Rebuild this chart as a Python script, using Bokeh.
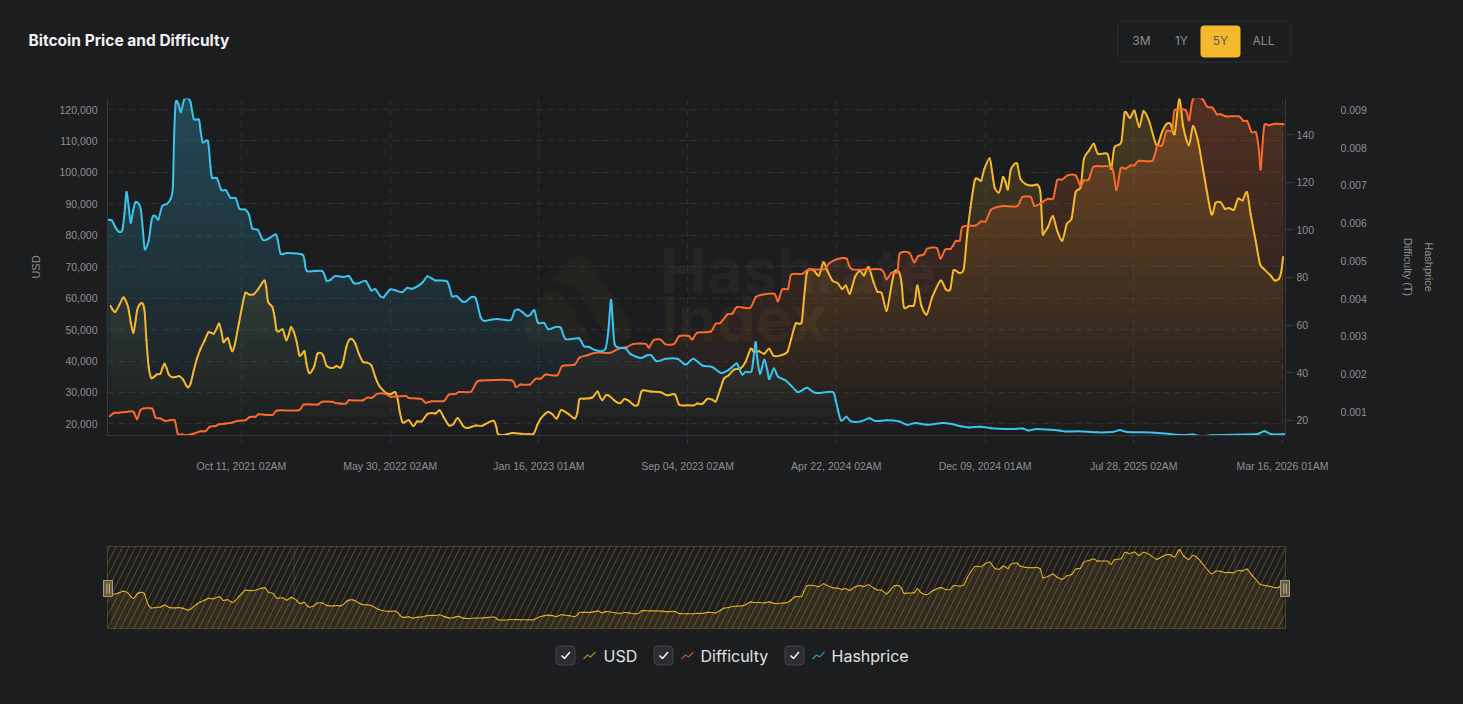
import numpy as np
import pandas as pd
from bokeh.plotting import figure
from bokeh.embed import file_html
from bokeh.resources import INLINE
from bokeh.models import (Range1d, LinearAxis, FixedTicker, NumeralTickFormatter, Label,
                          BoxAnnotation, PolyAnnotation)

TITLE = "Bitcoin Price and Difficulty"
START = pd.Timestamp("2021-03-17")
DAY_MS = 86400000.0

usd_days = [5,8,12,18,23,26,32,36,40,43,46,50,54,57.5,60.5,64,68,73,77,82,85,88.5,92,95,100,106,111,117.5,122,125,129,134,139,144.5,151,157,165,170,173.5,177,180,183,187,191,194,198,204,209,214,219.5,227,233.5,240,244,246.5,249.5,256,259.5,262.5,266,272,275,278,282,285,289.5,294,298,302.5,306,309,313,318,321.5,326,331,335,340,346.5,351.5,356,362,366,371,375,380,385,390.5,397,403,410,416,421.5,427,434.5,441,447,451,454,458,461.5,468,475,481,488,496.5,504,509.5,516,522,530,537,544,552.5,559,572,582,592,600,604,606.5,616,629,642,654.6,662,667.5,673,679,684.6,691,697.6,704,709,717,726,730,733,740,753,761,765,768.5,774,779,787,793,797,803,810,818,824,829,833,843.6,859,869.5,881.4,888,900.6,911,916,924,932,939.4,945,952,957.5,965,973,983,991,999,1004,1012,1020,1027.5,1035,1045.6,1056,1062,1069,1078,1082,1086,1089.6,1097,1105,1112,1118,1126,1134,1141,1147,1153,1161,1169,1175,1182,1190,1196,1202.5,1210,1215.5,1222,1229.4,1233.5,1237,1245,1252,1254.3,1258,1264,1272.4,1281,1294,1302,1309,1314,1323,1330,1335.4,1340.5,1347,1351,1357,1362,1370,1373.7,1378,1384.6,1388,1391,1395,1398.5,1402.7,1408,1413,1418,1426,1436,1444,1449,1452.4,1454.5,1460.7,1468.4,1475,1483,1490,1497.5,1503.7,1511.4,1516.6,1524.4,1532,1538.4,1553,1559,1564,1574.6,1580,1588,1595,1602.6,1609,1617.6,1629.5,1638,1645,1651,1657.5,1664.7,1671,1679.7,1686,1693.7,1702,1714.4,1721,1729,1735.7,1742,1749.6,1756,1763,1770,1775.5,1783.3,1790,1796,1806.6,1813,1819.6,1823,1826]
usd_values = [57500,56300,55600,57700,59800,60100,57200,52400,49000,51900,56100,58000,58400,56100,46600,38100,34600,35100,35800,35900,37600,39100,37600,35800,34900,34900,35200,34100,32300,31600,32800,37000,40800,43900,46600,49200,48700,50600,51900,49200,46000,46600,47300,44500,43100,45500,51900,57200,61600,61200,61200,62700,64800,65600,63500,58800,57200,54000,49800,49400,50100,48200,46600,48700,50800,49200,46000,41800,42300,43100,39200,36200,37000,38600,42300,42600,41800,38600,37800,37900,38400,37900,39700,44500,46600,47000,45500,42300,39700,39500,38600,34900,32300,30900,29600,29600,30100,27500,23800,20600,20500,21200,19300,20800,20800,23100,23500,23300,24300,22200,19600,19900,21900,19300,18700,19500,19400,20500,21000,19000,16700,16500,17100,16900,16700,16900,19600,21700,23100,23800,23100,21700,24300,24100,23000,21700,23800,27800,28000,28400,30300,28600,27500,29100,29000,27500,26700,26700,27900,27300,25900,26200,30200,30700,30300,30100,29100,29400,26100,25900,25900,26500,26400,28000,27700,27200,31200,34400,35500,37300,37600,39700,43900,42900,43100,42300,43900,41600,41800,42900,47100,51900,52200,60300,67800,69100,68800,67200,71400,68800,65600,64800,62900,64000,61400,66700,68600,67200,69900,65000,62000,61600,55900,61400,68300,68300,64500,57100,57500,57600,59200,64000,57700,54800,60300,65600,62800,62800,68800,68000,69300,80500,88900,97400,98000,97400,101100,104500,100600,95100,93600,95800,98500,96900,94600,100600,102500,102700,97900,96300,95800,96100,93700,81000,80700,82600,86100,81500,78300,83600,85400,93700,95300,104300,106900,109100,105900,105900,101100,108000,109600,119100,117300,119600,114400,119400,116500,108600,112900,115400,115400,112200,123300,114400,108600,114700,110100,100600,86800,90300,90500,88400,88700,88100,91600,91100,93700,86800,78300,70900,69300,67200,65600,66200,68300,73100]

difficulty_days = [3.6,10,17.6,28,40,46,51,56.4,69.4,74.6,82,90,104,109,116,124,134,144.5,152,159,168,173,183,196,201,214,221,230,235,256,263.6,297,305,326,333.5,349,354,370,375,395.6,403,411,419,432,440,463,468,487,494,504,522.5,530,540.6,546,564,572,579.5,627,634,641.6,656,665,673,680.5,698.6,706.4,725.5,733,745,758,779,789,797,807,817,836,841,848,859,867,880,888,903,908.4,916,937,944.6,952,963,970.5,978,998,1007,1020,1036,1041.4,1048,1057,1062,1079,1089.6,1113,1121,1134,1148,1157,1201,1210,1217.5,1227,1230.4,1245,1253,1259,1268,1273.5,1288,1294,1301,1310,1317.5,1324,1328,1348,1357,1364,1371.6,1379.4,1392,1413,1421,1434,1440,1452,1460.7,1469,1475,1483,1491,1503.7,1511.4,1516.6,1524,1531,1542.5,1560.6,1567,1573.6,1581,1589,1595,1602,1623,1630.5,1638,1645,1654,1657.5,1674.6,1680,1686,1700.4,1708,1716,1723,1729,1737,1757.4,1764,1770.4,1777,1784,1788.5,1791,1793.7,1797,1804,1814,1827]
difficulty_values = [21.7,23.1,23.2,23.5,23.6,20.4,24.2,25.0,24.9,21.1,20.8,19.7,20.0,14.4,14.0,13.7,14.4,15.4,15.4,17.3,17.6,18.3,18.6,19.2,19.7,20.0,21.4,21.5,22.5,22.2,24.1,24.2,26.6,26.6,27.8,27.8,27.3,27.0,28.4,28.3,29.5,29.5,31.1,31.1,29.9,30.2,29.4,29.0,27.4,28.0,28.1,30.8,31.1,31.9,31.9,35.4,36.7,36.8,34.0,35.0,35.0,37.4,37.5,39.2,38.9,42.8,43.4,46.3,47.3,48.4,48.3,49.4,50.4,50.8,52.1,52.1,50.5,53.6,53.9,51.9,52.1,55.3,55.4,53.9,56.8,57.3,60.6,60.9,64.5,64.8,67.6,67.2,71.8,72.9,73.1,70.0,75.0,75.3,81.2,81.5,83.4,83.4,86.0,87.8,87.9,83.4,83.4,79.2,82.0,82.3,90.0,90.4,86.4,88.9,89.7,92.1,92.4,87.9,91.7,92.1,95.3,95.6,101.2,101.8,103.6,103.6,108.2,109.4,110.0,110.0,113.8,113.8,110.0,111.7,113.1,113.3,120.8,121.1,122.9,122.9,118.5,120.8,121.1,126.4,126.7,126.0,116.6,125.7,125.7,127.1,127.1,129.0,129.1,135.3,135.5,141.6,141.8,150.3,150.3,146.0,155.0,155.0,151.7,151.4,148.6,148.6,147.7,147.7,145.8,145.6,141.1,140.9,133.4,125.3,134.8,144.0,144.0,144.6,144.4]

hashprice_days = [0,7,12.5,18,23,26.4,29.5,33,36,40,43.5,49,52,55,58,64,68,71,74.6,79,85,92.7,98,101.5,103.6,106,110,114,118.6,124,129,134,142,144.5,148,156,160,162.6,170,176.6,184,191,199,205,214,219.6,225,233.6,241,248,261,264.6,269,279,302.4,306,310,333.5,340,346.5,354,367,375,382.7,390.5,401,409.6,416,424,429,438.6,447,458,465.6,473,483.6,490,496.6,504,509.6,527.7,535,542,551,556,565,572,579.5,584.7,595,605.4,626,632,638,644,652,657,663,668.6,678,684.6,696,704,711.6,732,740,748,755.6,767,773.7,778,782,785,787.7,794.4,805,812.5,828,838.5,844.6,853,867,885,896.4,900.6,910,924,939.4,953.4,965.3,977,981,986,991,1000,1003,1006.7,1009,1013.5,1020,1025,1028,1035,1041.5,1053,1061,1071.5,1076.6,1087,1100,1126,1131,1139,1147.6,1155,1170,1183,1193,1211,1229.4,1242,1255,1273.5,1297,1312,1325,1338,1356,1372,1403,1421,1431,1444,1478,1488,1509,1537,1561,1572.5,1584,1628,1667,1685,1700,1716,1781,1788.5,1797,1808,1830]
hashprice_values = [.00609,.00607,.00588,.00577,.00581,.00625,.00682,.00642,.00601,.00634,.00656,.00650,.00634,.00581,.00531,.00554,.00603,.00619,.00618,.00610,.00645,.00651,.00664,.00695,.00836,.00920,.00916,.00894,.00925,.00932,.00920,.00876,.00874,.00845,.00814,.00817,.00748,.00720,.00719,.00688,.00687,.00667,.00666,.00638,.00636,.00623,.00586,.00582,.00556,.00557,.00570,.00554,.00519,.00521,.00517,.00501,.00473,.00473,.00448,.00450,.00460,.00457,.00460,.00441,.00441,.00447,.00422,.00425,.00406,.00404,.00424,.00422,.00417,.00429,.00426,.00435,.00444,.00459,.00453,.00448,.00445,.00407,.00407,.00393,.00392,.00404,.00401,.00351,.00341,.00344,.00346,.00343,.00367,.00371,.00365,.00354,.00358,.00369,.00336,.00336,.00319,.00325,.00323,.00293,.00295,.00274,.00272,.00265,.00261,.00268,.00316,.00397,.00334,.00279,.00270,.00268,.00253,.00243,.00250,.00250,.00234,.00241,.00241,.00226,.00228,.00241,.00223,.00219,.00203,.00212,.00228,.00215,.00199,.00206,.00207,.00237,.00285,.00246,.00201,.00238,.00210,.00187,.00215,.00193,.00184,.00171,.00153,.00155,.00164,.00150,.00153,.00131,.00078,.00087,.00075,.00075,.00083,.00076,.00078,.00075,.00066,.00071,.00066,.00071,.00068,.00062,.00059,.00061,.00057,.00055,.00056,.00051,.00055,.00051,.00048,.00049,.00046,.00047,.00052,.00047,.00045,.00039,.00040,.00036,.00038,.00041,.00043,.00049,.00041,.00041]

x_tick_labels = ["Oct 11, 2021 02AM","May 30, 2022 02AM","Jan 16, 2023 01AM","Sep 04, 2023 02AM",
                 "Apr 22, 2024 02AM","Dec 09, 2024 01AM","Jul 28, 2025 02AM","Mar 16, 2026 01AM"]
usd_ticks = [20000,30000,40000,50000,60000,70000,80000,90000,100000,110000,120000]
difficulty_ticks = [20,40,60,80,100,120,140]
hashprice_ticks = [.001,.002,.003,.004,.005,.006,.007,.008,.009]
range_buttons = ["3M","1Y","5Y","ALL"]
legend_names = ["USD","Difficulty","Hashprice"]
overview_marks = ["2022-01-01","2026-01-01"]

BG="#1c1d1f"; YEL="#F4B92D"; ORG="#F96A2C"; BLU="#3CC3EE"
GRID="#2c2e32"; AXIS="#36383d"; TXT="#8e8e90"
TICK_FONT="Liberation Sans"; UI_FONT="Inter"

def to_ms(days):
    return (START.value/1e6) + np.asarray(days, dtype=float)*DAY_MS

x_ticks = [pd.to_datetime(s, format="%b %d, %Y %I%p").value/1e6 for s in x_tick_labels]
X0, X1 = float(to_ms(0)), float(to_ms(1829.7))

W=1447

def canvas_label(fig,x,y,text,**kw):
    kw.setdefault("text_baseline","middle"); kw.setdefault("text_font",UI_FONT)
    fig.add_layout(Label(x=x,y=y,x_units="canvas",y_units="canvas",text=text,**kw))

def canvas_box(fig,l,r,t,b,**kw):
    kw.setdefault("line_alpha",1)
    fig.add_layout(BoxAnnotation(left=l,right=r,top=t,bottom=b,left_units="canvas",right_units="canvas",
                                 top_units="canvas",bottom_units="canvas",editable=False,**kw))

def canvas_poly(fig,xs,ys,**kw):
    kw.setdefault("line_alpha",1)
    fig.add_layout(PolyAnnotation(xs=xs,ys=ys,xs_units="canvas",ys_units="canvas",editable=False,**kw))

# header strip
hd=figure(width=W,height=90,output_backend="svg",toolbar_location=None,
          x_range=Range1d(0,W),y_range=Range1d(90,0),
          background_fill_color=BG,border_fill_color=BG,outline_line_color=None,
          x_axis_location=None,y_axis_location=None,min_border=0,frame_width=W,frame_height=90)
hd.grid.visible=False
canvas_label(hd,20,32,TITLE,text_color="#f1f1f3",text_font_size="15.5px",text_font_style="bold")
canvas_box(hd,1109,1282.5,12.5,53.5,fill_color=BG,fill_alpha=1,line_color="#2c2e32",line_width=1,border_radius=7)
canvas_box(hd,1192,1232,17,49,fill_color=YEL,fill_alpha=1,line_alpha=0,border_radius=4)
for t,cx,col in zip(range_buttons,[1133,1173,1212,1255],[TXT,TXT,"#5c5a50",TXT]):
    canvas_label(hd,cx,32,t,text_color=col,text_font_size="12px",text_align="center")

# main chart
p = figure(width=W, height=422, output_backend="svg", toolbar_location=None,
           x_range=Range1d(X0,X1), y_range=Range1d(16313,123500),
           background_fill_color=BG, border_fill_color=BG, outline_line_color=None,
           min_border_left=99, min_border_right=170, min_border_top=0, min_border_bottom=85,
           frame_width=1178, frame_height=337)
p.extra_y_ranges = {"diff":Range1d(13.6,155.2), "hash":Range1d(0.000376,0.0093)}

def style_axis(a):
    a.axis_line_color=AXIS; a.major_tick_line_color=AXIS; a.minor_tick_line_color=None
    a.major_label_text_color=TXT; a.major_label_text_font=TICK_FONT
    a.major_label_text_font_size="10.5px"

ax=p.xaxis[0]; style_axis(ax)
ax.ticker=FixedTicker(ticks=x_ticks)
ax.major_label_overrides=dict(zip(x_ticks,x_tick_labels))
ax.major_tick_in=0; ax.major_tick_out=8; ax.major_tick_line_dash=[3,3]; ax.major_label_standoff=16
ay=p.yaxis[0]; style_axis(ay)
ay.ticker=FixedTicker(ticks=usd_ticks); ay.formatter=NumeralTickFormatter(format="0,0")
ay.major_tick_in=0; ay.major_tick_out=0; ay.major_label_standoff=10
ay.axis_label="USD"; ay.axis_label_text_color=TXT; ay.axis_label_text_font=TICK_FONT
ay.axis_label_text_font_size="11px"; ay.axis_label_text_font_style="normal"; ay.axis_label_standoff=15

ad=LinearAxis(y_range_name="diff", ticker=FixedTicker(ticks=difficulty_ticks)); style_axis(ad)
ad.major_tick_in=0; ad.major_tick_out=8; ad.major_label_standoff=3
p.add_layout(ad,"right")
ah=LinearAxis(y_range_name="hash", ticker=FixedTicker(ticks=hashprice_ticks),
              formatter=NumeralTickFormatter(format="0.000")); style_axis(ah)
ah.axis_line_color=None; ah.major_tick_line_color=None
ah.major_tick_in=0; ah.major_tick_out=0; ah.major_label_standoff=23
p.add_layout(ah,"right")
for name,standoff in (("Difficulty (T)",32),("Hashprice",6)):
    n=LinearAxis(y_range_name="hash",ticker=FixedTicker(ticks=[]),axis_label=name)
    n.axis_line_color=None; n.major_tick_line_color=None; n.minor_tick_line_color=None
    n.axis_label_text_color=TXT; n.axis_label_text_font=TICK_FONT; n.axis_label_text_font_size="11px"
    n.axis_label_text_font_style="normal"; n.axis_label_standoff=standoff
    p.add_layout(n,"right")

p.xgrid.ticker=FixedTicker(ticks=x_ticks); p.ygrid.ticker=FixedTicker(ticks=usd_ticks)
for g in (p.xgrid[0],p.ygrid[0]):
    g.grid_line_color=GRID; g.grid_line_dash=[6,5]; g.grid_line_width=1

# watermark (main figure canvas starts at page y=98)
OFF=90
canvas_poly(p,[544,562,577,624,622,607,587,567],[y-OFF for y in [272,248,248,317,330,334,312,279]],fill_color=YEL,fill_alpha=0.035,line_alpha=0,level="underlay")
canvas_poly(p,[514,537,552,584,577,522],[y-OFF for y in [319,283,283,332,334,334]],fill_color=YEL,fill_alpha=0.035,line_alpha=0,level="underlay")
canvas_label(p,652,262-OFF,"Hashrate",text_color="#ffffff",text_alpha=0.035,text_font_size="62px",text_font_style="bold",level="underlay")
canvas_label(p,652,310-OFF,"Index",text_color=YEL,text_alpha=0.055,text_font_size="62px",text_font_style="bold",level="underlay")

def gradient(fig,x,v,color,lo,alpha_top,range_name="default",n=36):
    v=np.asarray(v,float)
    levels=np.linspace(lo,v.max(),n+1)
    for i in range(n):
        a=levels[i]; b=levels[i+1]
        fig.varea(x=x,y1=np.minimum(v,a),y2=np.minimum(v,b),fill_color=color,
                  fill_alpha=alpha_top*(i+0.5)/n,y_range_name=range_name)

def smooth(fig,x,v,color,width,range_name="default",t=0.13,alpha=1.0):
    x=np.asarray(x,float); v=np.asarray(v,float)
    gx=np.gradient(x,edge_order=1)*2; gv=np.gradient(v,edge_order=1)*2
    fig.bezier(x0=x[:-1],y0=v[:-1],x1=x[1:],y1=v[1:],
               cx0=x[:-1]+t*gx[:-1],cy0=v[:-1]+t*gv[:-1],
               cx1=x[1:]-t*gx[1:],cy1=v[1:]-t*gv[1:],
               line_color=color,line_width=width,line_cap="round",line_alpha=alpha,y_range_name=range_name)

series=[(usd_days,usd_values,YEL,16313,0.20,"default"),
        (difficulty_days,difficulty_values,ORG,13.6,0.24,"diff"),
        (hashprice_days,hashprice_values,BLU,0.000376,0.27,"hash")]
for d,v,c,lo,a,rn in series:
    gradient(p,to_ms(d),v,c,lo,a,rn)
for d,v,c,lo,a,rn in series:
    smooth(p,to_ms(d),v,c,2,rn)

# overview + legend strip: one frame over its whole canvas, same scales as the slider
OV_BOT,OV_TOP=3500.0,128060.0
PX=(X1-X0)/1178; UY=(OV_TOP-OV_BOT)/82
ov=figure(width=W,height=176,output_backend="svg",toolbar_location=None,
          x_range=Range1d(X0-99*PX,X1+170*PX),y_range=Range1d(OV_BOT-68*UY,OV_TOP+26*UY),
          background_fill_color=BG,border_fill_color=BG,outline_line_color=None,
          x_axis_location=None,y_axis_location=None,min_border=0,frame_width=W,frame_height=176)
ov.grid.visible=False
ux=to_ms(usd_days)
ov.varea(x=ux,y1=np.full(len(ux),OV_BOT),y2=usd_values,fill_color=YEL,fill_alpha=0.09)
mark_x=[pd.Timestamp(m).value/1e6 for m in overview_marks]
ov.segment(x0=mark_x,x1=mark_x,y0=[OV_BOT]*2,y1=[OV_TOP]*2,line_color="#34363a",line_width=1)
smooth(ov,ux,usd_values,YEL,1.1,alpha=0.9)
ov.quad(left=[X0],right=[X1],bottom=[OV_BOT],top=[OV_TOP],fill_alpha=0,line_color=YEL,line_alpha=0.22,line_width=1,
        hatch_pattern="right_diagonal_line",hatch_color=YEL,hatch_alpha=0.3,hatch_scale=13,hatch_weight=1)

for l,r in ((95,104),(1272,1281)):
    canvas_box(ov,l,r,60,76,fill_color="#6d5b2e",fill_alpha=1,line_color="#9b9b9b",line_width=1)
    canvas_box(ov,l+3,l+3.8,63,73,fill_color="#c9c9c9",fill_alpha=1,line_alpha=0)
    canvas_box(ov,l+5.4,l+6.2,63,73,fill_color="#c9c9c9",fill_alpha=1,line_alpha=0)

ICON_SHAPE=[(0,0),(4,-4),(7,-2),(12,-7)]
for name,cb,ix,tx,col in zip(legend_names,[547.5,645.5,776.5],[575,673,804],[595,692,823],
                             ["#a8852a","#b55430","#2f93b3"]):
    canvas_box(ov,cb,cb+19,125.5,144.5,fill_color="#2b2d32",fill_alpha=1,line_color="#44464c",line_width=1,border_radius=4)
    cx,cy=cb+5.5,135
    xs=[cx,cx+3,cx+8.5,cx+3]; ys=[cy,cy+3,cy-3.5,cy+3]
    canvas_poly(ov,xs,ys,fill_alpha=0,line_color="#f0f0f0",line_width=1.6)
    xs=[ix+a for a,_ in ICON_SHAPE]+[ix+a for a,_ in ICON_SHAPE[-2:0:-1]]
    ys=[138.5+b for _,b in ICON_SHAPE]+[138.5+b for _,b in ICON_SHAPE[-2:0:-1]]
    canvas_poly(ov,xs,ys,fill_alpha=0,line_color=col,line_width=1.2)
    canvas_label(ov,tx,135,name,text_color="#e2e2e4",text_font_size="16px")

html=file_html([hd,p,ov],INLINE)
html=html.replace("<head>","<head><style>html{background:#1c1d1f;overflow:hidden}body{background:#1c1d1f;margin:8px !important;line-height:0;font-size:0}</style>",1)
open("out.html","w").write(html)
